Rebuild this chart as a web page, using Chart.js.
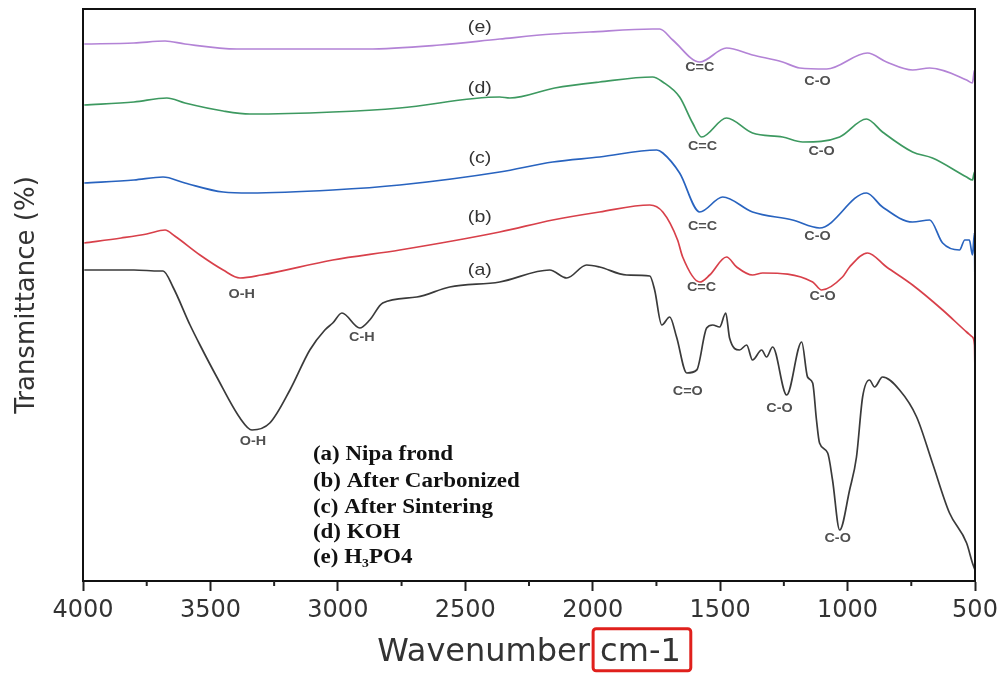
<!DOCTYPE html>
<html lang="en">
<head>
<meta charset="UTF-8">
<title>FTIR spectra</title>
<style>
  body { margin: 0; background: #fff; }
  canvas { display: block; }
</style>
</head>
<body>
<canvas id="ftir" width="1001" height="673"></canvas>
<script src="https://cdn.jsdelivr.net/npm/chart.js"></script>
<script>
// (a) Nipa frond
const wnA = [3995,3800,3700,3686,3647,3580,3541,3475,3384,3337,3267,3188,3110,3051,3020,2984,2914,2875,2824,2690,2561,2365,2169,2102,2024,1973,1867,1776,1757,1729,1698,1671,1631,1592,1553,1529,1502,1478,1463,1424,1396,1373,1337,1318,1294,1239,1180,1157,1137,1122,1110,1078,1059,1031,992,965,941,914,894,863,796,729,667,600,533,510,500];
const tA  = [311,311,310,310,294,256,236,204,163,151,158,191,231,251,258,268,253,261,278,284,294,299,311,303,316,314,306,305,291,256,264,244,208,211,253,256,254,268,243,231,236,221,231,224,234,186,239,204,198,161,138,128,101,51,91,124,184,201,194,204,191,164,118,68,38,18,11];
// (b) After Carbonized
const wnB = [3995,3850,3750,3678,3640,3541,3450,3384,3300,3020,2757,2365,2157,1973,1776,1725,1667,1647,1580,1541,1475,1435,1373,1333,1137,1102,1020,992,922,847,745,627,533,510,502,500];
const tB  = [338,343,347,351,345,326,311,303,306,321,331,349,361,369,376,369,341,324,299,306,324,314,306,308,299,291,304,314,328,314,296,271,249,244,236,208];
// (c) After Sintering
const wnC = [3995,3800,3686,3600,3450,3345,3020,2757,2365,2157,1973,1749,1725,1659,1580,1490,1373,1216,1110,926,863,745,678,627,561,540,522,510,502,500];
const tC  = [398,401,404,398,389,388,391,396,409,419,424,431,428,408,369,384,369,361,353,388,374,359,361,338,331,341,341,326,348,281];
// (d) KOH
const wnD = [3995,3800,3671,3600,3450,3345,3020,2757,2365,2325,2149,1973,1765,1725,1659,1608,1573,1475,1373,1255,1176,1031,926,863,745,667,533,510,502,500];
const tD  = [476,479,483,478,470,467,469,473,484,483,493,499,504,499,484,458,444,463,448,444,439,444,462,449,429,423,404,401,409,391];
// (e) H3PO4
const wnE = [3995,3800,3678,3600,3396,3100,2886,2600,2365,2157,2012,1765,1737,1686,1580,1475,1373,1255,1188,1082,922,847,745,678,533,510,502,500];
const tE  = [537,538,540,537,532,532,532,536,542,547,549,552,552,541,519,533,526,519,513,512,528,519,511,513,501,498,511,493];

const xTicks = [500,1000,1500,2000,2500,3000,3500,4000];
const xMinorTicks = [750,1250,1750,2250,2750,3250,3750];

// curve tags
const tagText = ['(a)','(b)','(c)','(d)','(e)'];
const tagWn   = [2443,2443,2443,2443,2443];
const tagT    = [311,364,423,493,554];

// band labels
const peakText = ['C=C','C-O','C=C','C-O','C=C','C-O','C=C','C-O','O-H','C-H','O-H','C=O','C-O','C-O'];
const peakWn   = [1580,1118,1569,1102,1569,1118,1573,1098,3377,2906,3333,1627,1267,1039];
const peakT    = [513,499,434,429,354,344,293,284,286,243,139,189,172,42];

const legendText = ['(a) Nipa frond','(b) After Carbonized','(c) After Sintering','(d) KOH','(e) H\u2083PO4'];
const legendT    = [126,99,73,48,23];
const legendWn   = 3098;

const toXY = (xs, ys) => xs.map((x, i) => ({x: x, y: ys[i]}));

function line(label, xs, ys, color) {
  return {
    label: label,
    data: toXY(xs, ys),
    borderColor: color,
    borderWidth: 1.7,
    pointRadius: 0,
    cubicInterpolationMode: 'monotone',
    fill: false
  };
}

function stretchText(ctx, txt, x, y, font, color, align, sx) {
  ctx.save();
  ctx.font = font;
  ctx.fillStyle = color;
  ctx.textAlign = align;
  ctx.textBaseline = 'middle';
  ctx.translate(x, y);
  ctx.scale(sx, 1);
  ctx.fillText(txt, 0, 0);
  ctx.restore();
}

const extras = {
  id: 'extras',
  afterDraw(chart) {
    const ctx = chart.ctx;
    const xs = chart.scales.x, ys = chart.scales.y;
    const area = chart.chartArea;

    // top + right frame
    ctx.save();
    ctx.strokeStyle = '#111';
    ctx.lineWidth = 2;
    ctx.beginPath();
    ctx.moveTo(area.left, area.top);
    ctx.lineTo(area.right, area.top);
    ctx.lineTo(area.right, area.bottom);
    ctx.stroke();

    // minor ticks
    ctx.strokeStyle = '#222';
    xMinorTicks.forEach(v => {
      const px = xs.getPixelForValue(v);
      ctx.beginPath();
      ctx.moveTo(px, area.bottom);
      ctx.lineTo(px, area.bottom + 5);
      ctx.stroke();
    });
    ctx.restore();

    tagText.forEach((t, i) => {
      stretchText(ctx, t, xs.getPixelForValue(tagWn[i]), ys.getPixelForValue(tagT[i]),
        '17px "Liberation Sans"', '#333', 'center', 1.15);
    });
    peakText.forEach((t, i) => {
      stretchText(ctx, t, xs.getPixelForValue(peakWn[i]), ys.getPixelForValue(peakT[i]),
        'bold 12px "Liberation Sans"', '#505050', 'center', 1.2);
    });
    legendText.forEach((t, i) => {
      stretchText(ctx, t, xs.getPixelForValue(legendWn), ys.getPixelForValue(legendT[i]),
        'bold 20px "Liberation Serif"', '#111', 'left', 1.15);
    });

    // red box round the unit
    ctx.save();
    ctx.font = '32px "DejaVu Sans"';
    const full = ctx.measureText('Wavenumber cm-1').width;
    const head = ctx.measureText('Wavenumber ').width;
    const cx = (xs.left + xs.right) / 2;
    const ty = xs.bottom - 32 * 1.2 / 2 - 1;
    const x1 = cx - full / 2 + head - 7;
    const x2 = cx + full / 2 + 10;
    ctx.strokeStyle = '#e0201c';
    ctx.lineWidth = 3;
    ctx.beginPath();
    ctx.roundRect(x1, ty - 24, x2 - x1, 42, 3);
    ctx.stroke();
    ctx.restore();
  }
};

new Chart(document.getElementById('ftir'), {
  type: 'line',
  data: {
    datasets: [
      line('(a) Nipa frond', wnA, tA, '#3a3a3a'),
      line('(b) After Carbonized', wnB, tB, '#d8404a'),
      line('(c) After Sintering', wnC, tC, '#2863bf'),
      line('(d) KOH', wnD, tD, '#3d9960'),
      line('(e) H3PO4', wnE, tE, '#b383d6')
    ]
  },
  options: {
    responsive: false,
    animation: false,
    layout: { padding: { top: 9, right: 26, left: 0, bottom: 0 } },
    plugins: { legend: { display: false }, tooltip: { enabled: false } },
    scales: {
      x: {
        type: 'linear',
        reverse: true,
        min: 500,
        max: 4000,
        afterBuildTicks: s => { s.ticks = xTicks.map(v => ({value: v})); },
        afterFit: s => { s.height = 92; },
        ticks: {
          font: { family: 'DejaVu Sans', size: 24 },
          color: '#333',
          padding: 5,
          maxRotation: 0,
          callback: v => String(v)
        },
        grid: { drawOnChartArea: false, tickLength: 10, tickWidth: 2, tickColor: '#222', color: '#222' },
        border: { color: '#111', width: 2 },
        title: {
          display: true,
          text: 'Wavenumber cm-1',
          font: { family: 'DejaVu Sans', size: 32 },
          color: '#333',
          padding: { top: 4, bottom: 1 }
        }
      },
      y: {
        min: 0,
        max: 572,
        afterFit: s => { s.width = 83; },
        ticks: { display: false },
        grid: { display: false },
        border: { display: true, color: '#111', width: 2 },
        title: {
          display: true,
          text: 'Transmittance (%)',
          font: { family: 'DejaVu Sans', size: 26 },
          color: '#333',
          padding: { top: 12, bottom: 0 }
        }
      }
    }
  },
  plugins: [extras]
});
</script>
</body>
</html>
